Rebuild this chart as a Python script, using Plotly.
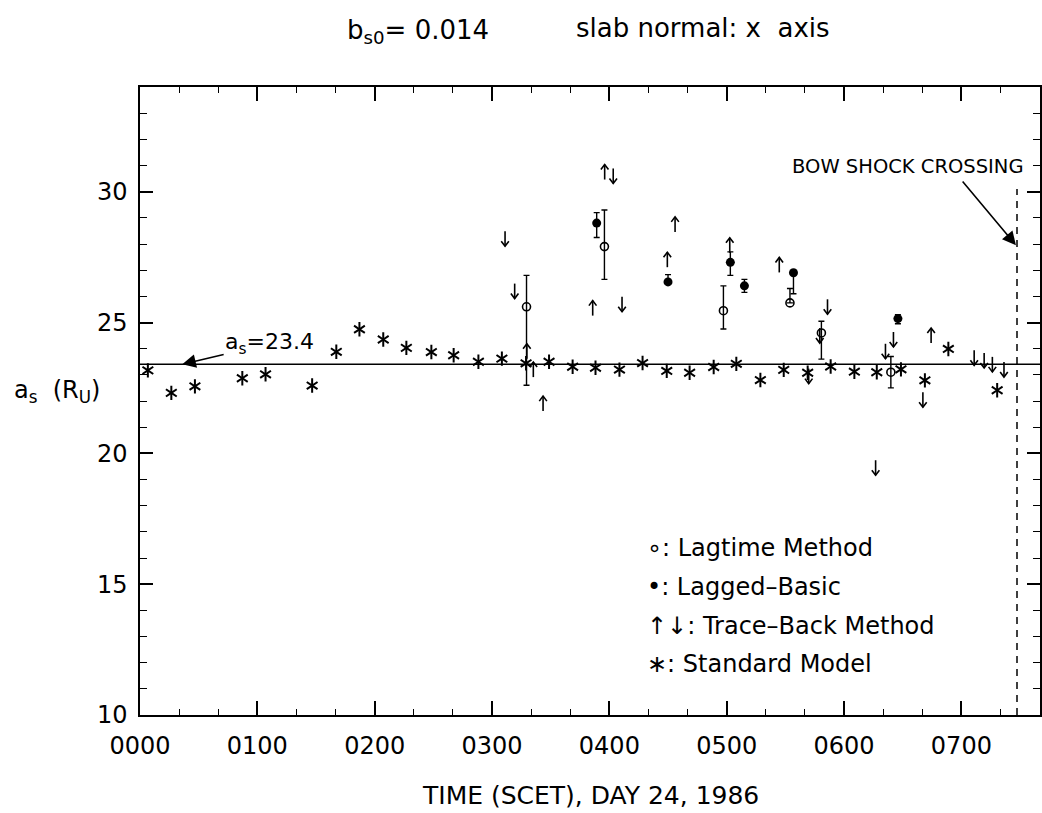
import plotly.graph_objects as go

# Time axis in hours after 0000 SCET, day 24 of 1986
hour_ticks = [0, 1, 2, 3, 4, 5, 6, 7]
hour_labels = ["0000", "0100", "0200", "0300", "0400", "0500", "0600", "0700"]
y_ticks = [10, 15, 20, 25, 30]

# Standard model
std_t = [0.067, 0.267, 0.468, 0.872, 1.070, 1.467, 1.673, 1.870, 2.073, 2.270,
         2.483, 2.673, 2.884, 3.084, 3.290, 3.486, 3.687, 3.882, 4.086, 4.283,
         4.489, 4.684, 4.889, 5.082, 5.287, 5.486, 5.690, 5.886, 6.088, 6.279,
         6.485, 6.689, 6.889, 7.305]
std_a = [23.17, 22.31, 22.56, 22.87, 23.02, 22.59, 23.88, 24.74, 24.35, 24.03,
         23.87, 23.75, 23.50, 23.62, 23.44, 23.50, 23.31, 23.27, 23.20, 23.45,
         23.15, 23.08, 23.30, 23.42, 22.80, 23.19, 23.08, 23.32, 23.12, 23.10,
         23.21, 22.79, 23.99, 22.41]

# Lagtime method (open circles) with asymmetric errors
lag_t = [3.294, 3.958, 4.972, 5.539, 5.807, 6.399]
lag_a = [25.60, 27.90, 25.45, 25.75, 24.60, 23.10]
lag_up = [1.20, 1.40, 0.95, 0.55, 0.45, 0.60]
lag_dn = [3.00, 1.25, 0.70, 0.00, 1.00, 0.60]

# Lagged-basic (filled circles)
lb_t = [3.892, 4.500, 5.031, 5.151, 5.569, 6.459]
lb_a = [28.80, 26.55, 27.30, 26.40, 26.90, 25.15]
lb_up = [0.40, 0.28, 0.40, 0.25, 0.05, 0.15]
lb_dn = [0.55, 0.00, 0.50, 0.25, 0.80, 0.20]

# Trace-back method: upward and downward arrows
tb_up_t = [3.297, 3.352, 3.435, 3.858, 3.960, 4.494, 4.560, 5.026, 5.448, 6.742]
tb_up_a = [23.90, 23.20, 21.90, 25.55, 30.75, 27.40, 28.75, 27.95, 27.20, 24.50]
tb_dn_t = [3.111, 3.193, 4.033, 4.108, 5.699, 5.793, 5.859, 6.269, 6.353, 6.421,
           6.672, 7.109, 7.194, 7.264, 7.363]
tb_dn_a = [28.20, 26.20, 30.60, 25.70, 22.95, 24.50, 25.60, 19.45, 23.90, 24.35,
           22.05, 23.65, 23.55, 23.40, 23.20]

as_mean = 23.4
bow_shock_t = 7.474

FONT = "DejaVu Sans"
INK = "black"

X_RANGE = [0, 7.67]
Y_RANGE = [10, 34]
W_PX, H_PX = 1042, 813
MARGIN = dict(l=140, r=0, t=87, b=98)
# data units per screen pixel, used to size the arrow glyphs
PX_T = (X_RANGE[1] - X_RANGE[0]) / (W_PX - MARGIN["l"] - MARGIN["r"])
PX_A = (Y_RANGE[1] - Y_RANGE[0]) / (H_PX - MARGIN["t"] - MARGIN["b"])


def arrow_glyphs(ts, vals, direction, half_len=7.5, head_w=3.8, head_h=5.0):
    """Line-drawn arrows centred on each value; direction +1 = up, -1 = down."""
    xs, ys = [], []
    for t, v in zip(ts, vals):
        tip = v + direction * half_len * PX_A
        tail = v - direction * half_len * PX_A
        back = tip - direction * head_h * PX_A
        xs += [t, t, None, t - head_w * PX_T, t, t + head_w * PX_T, None]
        ys += [tail, tip, None, back, tip, back, None]
    return xs, ys


fig = go.Figure()

# Standard-model asterisks: two three-armed symbols combine into a six-armed star
for sym in ("y-up-open", "y-down-open"):
    fig.add_trace(go.Scatter(
        x=std_t, y=std_a, mode="markers", name="Standard Model", showlegend=False,
        marker=dict(symbol=sym, size=9, line=dict(color=INK, width=2), color=INK),
        hoverinfo="skip"))

fig.add_trace(go.Scatter(
    x=lag_t, y=lag_a, mode="markers", name="Lagtime Method", showlegend=False,
    marker=dict(symbol="circle-open", size=8, line=dict(color=INK, width=1.6), color=INK),
    error_y=dict(type="data", symmetric=False, array=lag_up, arrayminus=lag_dn,
                 width=3, thickness=1.4, color=INK)))

fig.add_trace(go.Scatter(
    x=lb_t, y=lb_a, mode="markers", name="Lagged-Basic", showlegend=False,
    marker=dict(symbol="circle", size=9, color=INK),
    error_y=dict(type="data", symmetric=False, array=lb_up, arrayminus=lb_dn,
                 width=3, thickness=1.4, color=INK)))

for ts, vals, d, nm in ((tb_up_t, tb_up_a, 1, "Trace-Back (up)"),
                        (tb_dn_t, tb_dn_a, -1, "Trace-Back (down)")):
    ax_, ay_ = arrow_glyphs(ts, vals, d)
    fig.add_trace(go.Scatter(
        x=ax_, y=ay_, mode="lines", name=nm, showlegend=False,
        line=dict(color=INK, width=1.6), hoverinfo="skip"))

# Mean standard-model distance and the bow shock crossing
fig.add_shape(type="line", xref="paper", x0=0, x1=1, yref="y", y0=as_mean, y1=as_mean,
              line=dict(color=INK, width=1.5))
fig.add_shape(type="line", xref="x", x0=bow_shock_t, x1=bow_shock_t, yref="y", y0=10, y1=30.1,
              line=dict(color=INK, width=1.5, dash="7px,6px"))

ann = []
# label of the mean line, with its pointer drawn from the text box
ann.append(dict(x=0.36, y=as_mean, ax=1.105, ay=24.2, xref="x", yref="y",
                axref="x", ayref="y", text="a<sub>s</sub>=23.4", showarrow=True,
                arrowhead=2, arrowsize=1.7, arrowwidth=1.6, arrowcolor=INK,
                font=dict(family=FONT, size=22, color=INK)))
ann.append(dict(x=7.465, y=27.95, ax=7.0, ay=30.45, xref="x", yref="y", axref="x", ayref="y",
                text="", showarrow=True, arrowhead=2, arrowsize=1.7, arrowwidth=1.6,
                arrowcolor=INK))
ann.append(dict(x=7.55, y=30.95, xref="x", yref="y", xanchor="right", yanchor="middle",
                text="BOW SHOCK CROSSING", showarrow=False,
                font=dict(family=FONT, size=19.5, color=INK)))

legend_lines = ["∘: Lagtime Method", "•: Lagged–Basic", "↑↓: Trace–Back Method", "∗: Standard Model"]
legend_y = [16.4, 14.9, 13.4, 11.95]
for txt, yy in zip(legend_lines, legend_y):
    ann.append(dict(x=4.3, y=yy, xref="x", yref="y", xanchor="left", yanchor="middle",
                    text=txt, showarrow=False, font=dict(family=FONT, size=24, color=INK)))

# Titles and axis labels
ann.append(dict(x=(345 - 140) / 902, y=1.088, xref="paper", yref="paper",
                xanchor="left", yanchor="middle", text="b<sub>s0</sub>= 0.014",
                showarrow=False, font=dict(family=FONT, size=26, color=INK)))
ann.append(dict(x=(575 - 140) / 902, y=1.094, xref="paper", yref="paper",
                xanchor="left", yanchor="middle", text="slab normal: x&nbsp;&nbsp;axis",
                showarrow=False, font=dict(family=FONT, size=26, color=INK)))
ann.append(dict(x=(591 - 140) / 902, y=(715 - 795) / 628, xref="paper", yref="paper",
                xanchor="center", yanchor="middle", text="TIME (SCET), DAY 24, 1986",
                showarrow=False, font=dict(family=FONT, size=25, color=INK)))
ann.append(dict(x=(12 - 140) / 902, y=(715 - 392) / 628, xref="paper", yref="paper",
                xanchor="left", yanchor="middle", text="a<sub>s</sub>  (R<sub>U</sub>)",
                showarrow=False, font=dict(family=FONT, size=24, color=INK)))

fig.update_layout(
    width=W_PX, height=H_PX,
    margin=MARGIN,
    paper_bgcolor="white", plot_bgcolor="white",
    font=dict(family=FONT, color=INK),
    annotations=ann,
    showlegend=False,
)

fig.update_xaxes(
    range=X_RANGE, showgrid=False, zeroline=False,
    showline=True, linecolor=INK, linewidth=1.5, mirror="ticks",
    ticks="inside", ticklen=14, tickwidth=1.5, tickcolor=INK,
    tickvals=hour_ticks, ticktext=hour_labels,
    tickfont=dict(family=FONT, size=24, color=INK), ticklabelstandoff=8,
    minor=dict(tickmode="linear", tick0=0, dtick=1 / 3, ticks="inside",
               ticklen=6, tickwidth=1.2, tickcolor=INK),
)
fig.update_yaxes(
    range=Y_RANGE, showgrid=False, zeroline=False,
    showline=True, linecolor=INK, linewidth=1.5, mirror="ticks",
    ticks="inside", ticklen=13, tickwidth=1.5, tickcolor=INK,
    tickvals=y_ticks, ticktext=[str(v) for v in y_ticks],
    tickfont=dict(family=FONT, size=24, color=INK), ticklabelstandoff=6,
    minor=dict(tickmode="linear", tick0=10, dtick=1, ticks="inside",
               ticklen=7, tickwidth=1.2, tickcolor=INK),
)

fig.write_html("out.html")
